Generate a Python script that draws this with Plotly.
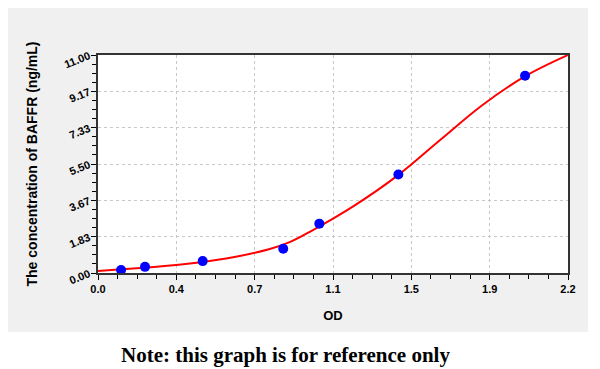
import plotly.graph_objects as go

# Standard points (OD vs concentration)
od_points = [0.108, 0.22, 0.49, 0.867, 1.036, 1.406, 1.999]
conc_points = [0.15, 0.31, 0.60, 1.22, 2.49, 4.97, 9.95]

# Fitted curve
curve_od = [0.0, 0.2, 0.4, 0.6, 0.8, 0.9, 1.0, 1.2, 1.4, 1.6, 1.8, 2.0, 2.2]
curve_conc = [0.1, 0.25, 0.44, 0.73, 1.2, 1.57, 2.13, 3.4, 4.9, 6.7, 8.48, 9.93, 11.0]

x_tickvals = [0.0, 2.2 / 6, 2.2 * 2 / 6, 1.1, 2.2 * 4 / 6, 2.2 * 5 / 6, 2.2]
x_ticktext = ["0.0", "0.4", "0.7", "1.1", "1.5", "1.9", "2.2"]
y_tickvals = [0.0, 11 / 6, 11 * 2 / 6, 5.5, 11 * 4 / 6, 11 * 5 / 6, 11.0]
y_ticktext = ["0.00", "1.83", "3.67", "5.50", "7.33", "9.17", "11.00"]

x_minor = [i * 2.2 / 24 for i in range(25)]
y_minor = [i * 11 / 24 for i in range(25)]

fig = go.Figure()
fig.add_trace(go.Scatter(x=curve_od, y=curve_conc, mode="lines",
                         line=dict(color="#ff0000", width=2, shape="spline", smoothing=1),
                         hoverinfo="skip", showlegend=False))
fig.add_trace(go.Scatter(x=od_points, y=conc_points, mode="markers",
                         marker=dict(color="#0000ff", size=10),
                         showlegend=False))

# page body has an 8px margin: work in figure coordinates (screen - 8)
OFF = 8
FW, FH = 600 - OFF, 369 - OFF
L, R, T, B = 98 - OFF, 568 - OFF, 55 - OFF, 273 - OFF
W, H = R - L, B - T

def px(x):
    return (x - OFF - L) / W

def py(y):
    return (B - (y - OFF)) / H

fig.add_shape(type="rect", xref="paper", yref="paper",
              x0=px(8), x1=px(588), y0=py(332), y1=py(6),
              fillcolor="#f0f0f0", line=dict(width=0), layer="below")
fig.add_shape(type="rect", xref="paper", yref="paper",
              x0=0, x1=1, y0=0, y1=1,
              fillcolor="#ffffff", line=dict(width=0), layer="below")

tickfont = dict(family="Liberation Sans", size=11, color="#000000", weight="bold")
fig.update_xaxes(range=[0, 2.2], tickmode="array", tickvals=x_tickvals,
                 ticktext=x_ticktext, tickfont=tickfont, automargin=False,
                 ticks="outside", ticklen=5, tickcolor="#000",
                 showline=True, linecolor="#333", linewidth=1.5, mirror=True,
                 showgrid=True, gridcolor="#c8c8c8", griddash="dot", gridwidth=1,
                 zeroline=False,
                 minor=dict(tickmode="array", tickvals=x_minor, ticks="outside",
                            ticklen=4, tickcolor="#000", showgrid=False),
                 title=dict(text="<b>OD</b>", font=dict(family="Liberation Sans", size=13, color="#000"),
                            standoff=17))
fig.update_yaxes(range=[0, 11], tickmode="array", tickvals=y_tickvals,
                 ticktext=y_ticktext, tickfont=tickfont, tickangle=-22, automargin=False,
                 ticks="outside", ticklen=5, tickcolor="#000",
                 showline=True, linecolor="#333", linewidth=1.5, mirror=True,
                 showgrid=True, gridcolor="#c8c8c8", griddash="dot", gridwidth=1,
                 zeroline=False,
                 minor=dict(tickmode="array", tickvals=y_minor, ticks="outside",
                            ticklen=4, tickcolor="#000", showgrid=False),
                 title=dict(text="<b>The concentration of BAFFR (ng/mL)</b>",
                            font=dict(family="Liberation Sans", size=14, color="#000"),
                            standoff=22))

fig.add_annotation(text="<b>Note: this graph is for reference only</b>",
                   xref="paper", yref="paper", x=px(285), y=py(355),
                   xanchor="center", yanchor="middle", showarrow=False,
                   font=dict(family="Liberation Serif", size=21, color="#000"))

fig.update_layout(width=FW, height=FH,
                  margin=dict(l=L, r=FW - R, t=T, b=FH - B, autoexpand=False),
                  paper_bgcolor="#ffffff", plot_bgcolor="#ffffff")

fig.write_html("out.html")
